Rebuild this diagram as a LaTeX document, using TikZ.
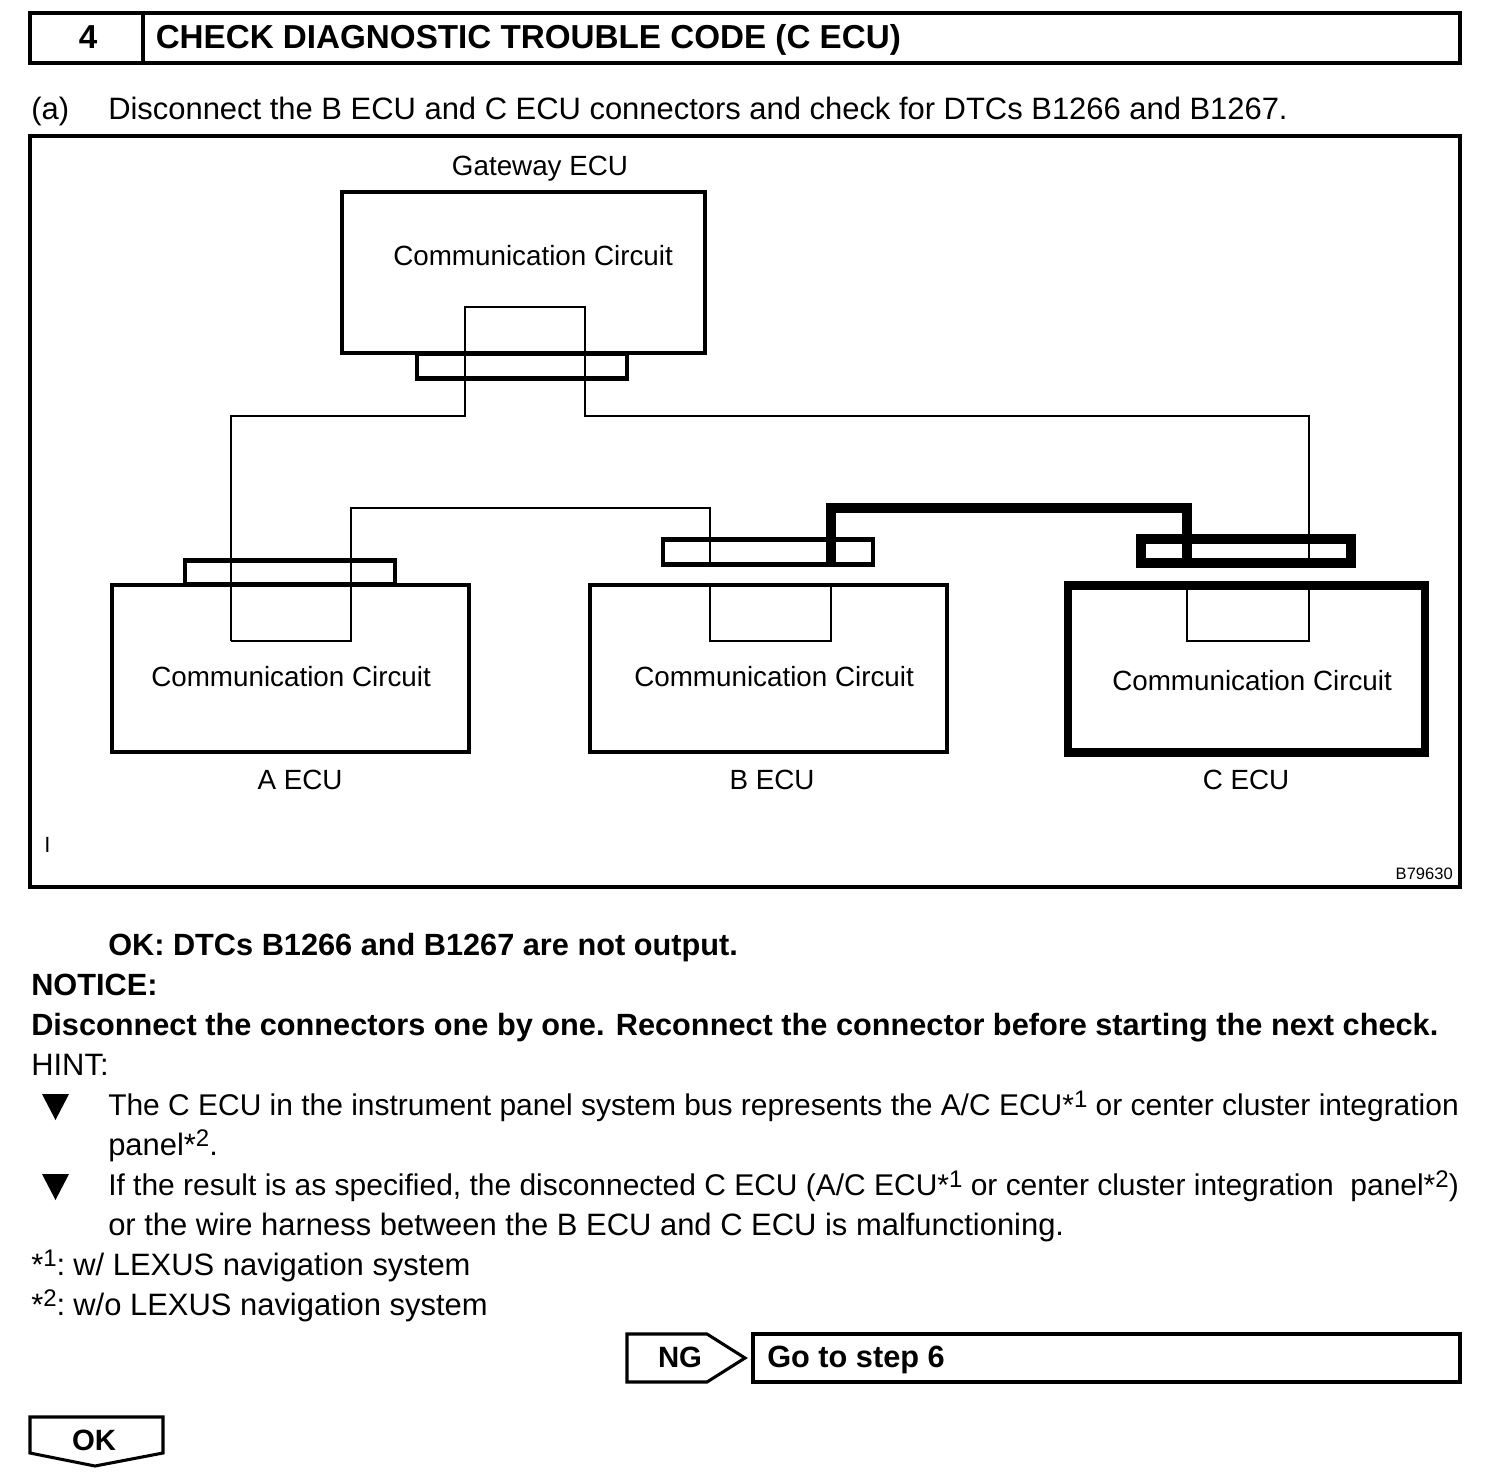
\documentclass[tikz,border=0pt]{standalone}
\usepackage{fontspec}
\setmainfont{Liberation Sans}
\newcommand{\bodyfont}{\fontsize{23.2}{27}\selectfont}
\newcommand{\hintfont}{\fontsize{22.47}{27}\selectfont}
\newcommand{\figfont}{\fontsize{20.85}{25}\selectfont}
\newcommand{\notemark}[1]{*\raisebox{.5ex}{\fontsize{18}{18}\selectfont #1}}
\tikzset{
	frameline/.style={draw,line width=2.3pt},
	plainbox/.style={draw,line width=3.5pt,minimum width=267.75pt,minimum height=125.25pt,inner sep=0pt},
	plainconn/.style={draw,line width=3.5pt,minimum width=157.5pt,minimum height=18.4pt,inner sep=0pt},
	wire/.style={line width=2.2pt},
	wireheavy/.style={line width=6.9pt},
	textline/.style={anchor=base west,inner sep=0pt,font=\bodyfont},
	hintline/.style={textline,font=\hintfont},
	figline/.style={anchor=base west,inner sep=0pt,font=\figfont},
	figmid/.style={anchor=base,inner sep=0pt,font=\figfont},
	boldline/.style={textline,font=\fontsize{23.03}{27}\selectfont\bfseries},
	titleline/.style={anchor=base west,inner sep=0pt,font=\fontsize{24.9}{29}\selectfont\bfseries},
	tagline/.style={anchor=base,inner sep=0pt,font=\fontsize{22}{26}\selectfont\bfseries},
}
\begin{document}
\begin{tikzpicture}[
		x={(0.75pt,0pt)},
		y={(0pt,-0.75pt)},
	]
	\useasboundingbox (0,0) rectangle (1504,1478);
	
	% heading
	\draw[frameline] (30,13) rectangle (1460,63);
	\draw[frameline] (143,13) -- (143,63);
	\node[tagline,font=\fontsize{24.9}{29}\selectfont\bfseries] (stepno) at (88,48) {4};
	\node[titleline] (steptitle) at (155.5,48) {CHECK DIAGNOSTIC TROUBLE CODE (C ECU)};
	\node[textline] (parta) at (31,119) {(a)};
	\node[textline] (parttext) at (108,119) {Disconnect the B ECU and C ECU connectors and check for DTCs B1266 and B1267.};
	
	% figure
	\draw[frameline] (30,136) rectangle (1460,887);
	\node[figmid] (gwname) at (540,175) {Gateway ECU};
	\node[plainbox,minimum width=272.25pt,minimum height=120.75pt] (gwbox) at (523.5,272.5) {};
	\node[plainconn] (gwconn) at (522,366) {};
	\node[figline] (gwtext) at (393,265) {Communication Circuit};
	
	\node[plainbox] (abox) at (290.5,668.5) {};
	\node[plainbox] (bbox) at (768.5,668.5) {};
	\node[plainbox,line width=6.4pt] (cbox) at (1246.5,669) {};
	\node[plainconn] (aconn) at (290,572.5) {};
	\node[plainconn] (bconn) at (768,552) {};
	\node[plainconn,line width=7.5pt] (cconn) at (1246,551) {};
	
	\foreach \ecu/\x/\y in {a/151/686,b/634/686,c/1112/690}{
		\node[figline] (\ecu text) at (\x,\y) {Communication Circuit};
	}
	\node[figmid] (aname) at (300,789) {A ECU};
	\node[figmid] (bname) at (772,789) {B ECU};
	\node[figmid] (cname) at (1246,789) {C ECU};
	
	\coordinate (aL) at (231,641);
	\coordinate (aR) at (351,641);
	\coordinate (bL) at (710,641);
	\coordinate (bR) at (831,641);
	\coordinate (cL) at (1187,641);
	\coordinate (cR) at (1309,641);
	\coordinate (gL) at (465,307);
	\coordinate (gR) at (585,307);
	\coordinate (busG) at (0,416);
	\coordinate (busB) at (0,508);
	
	\draw[wire] (aL) -- (aL |- busG) -- (gL |- busG) -- (gL) -- (gR) -- (gR |- busG) -- (cR |- busG) -- (cR |- cconn.south);
	\draw[wire] (aL) -- (aR) -- (aR |- busB) -- (bL |- busB) -- (bL |- bconn.south);
	\draw[wire] (bL |- bbox.north) -- (bL) -- (bR) -- (bR |- bbox.north);
	\draw[wire] (cL |- cbox.north) -- (cL) -- (cR) -- (cR |- cbox.north);
	\draw[wireheavy] (bR |- bconn.south) -- (bR |- busB) -- (cL |- busB) -- (cL |- cconn.south);
	
	\node[figline,font=\fontsize{16.5}{18}\selectfont] (cornermark) at (44,852) {I};
	\node[anchor=base east,inner sep=0pt,font=\fontsize{12.4}{14}\selectfont] (figno) at (1453,879) {B79630};
	
	% text below the figure
	\node[boldline] (okline) at (108,955) {OK: DTCs B1266 and B1267 are not output.};
	\node[boldline] (noticehead) at (31,995) {NOTICE:};
	\node[boldline] (noticetext) at (31,1035) {Disconnect the connectors one by one. Reconnect the connector before starting the next check.};
	\node[textline] (hinthead) at (31,1075) {HINT:};
	\foreach \y in {1094,1174}{
		\fill (42,\y) -- (69,\y) -- (55.5,\y+26) -- cycle;
	}
	\node[hintline] (hinta) at (108,1115) {The C ECU in the instrument panel system bus represents the A/C ECU\notemark{1} or center cluster integration};
	\node[textline] (hintb) at (108,1155) {panel\notemark{2}.};
	\node[hintline] (hintc) at (108,1195) {If the result is as specified, the disconnected C ECU (A/C ECU\notemark{1} or center cluster integration\ \ panel\notemark{2})};
	\node[textline] (hintd) at (108,1235) {or the wire harness between the B ECU and C ECU is malfunctioning.};
	\node[textline] (notea) at (31,1275) {\notemark{1}:\kern-2.5pt{} w/ LEXUS navigation system};
	\node[textline] (noteb) at (31,1315) {\notemark{2}:\kern-2.5pt{} w/o LEXUS navigation system};
	
	% result tags
	\draw[frameline] (627,1334) -- (707,1334) -- (745,1358) -- (707,1382) -- (627,1382) -- cycle;
	\node[tagline] (ngtag) at (680,1367) {NG};
	\node[draw,line width=2.3pt,minimum width=530.25pt,minimum height=36pt,inner sep=0pt] (gobox) at (1106.5,1358) {};
	\node[boldline] (gotext) at (767,1367) {Go to step 6};
	\draw[frameline] (30,1417) -- (163,1417) -- (163,1453) -- (95,1466) -- (30,1453) -- cycle;
	\node[tagline] (oktag) at (94,1450) {OK};
\end{tikzpicture}
\end{document}
